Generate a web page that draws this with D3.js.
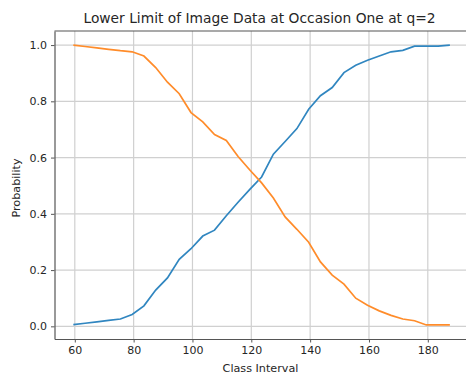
<!DOCTYPE html>
<html>
<head>
<meta charset="utf-8">
<script src="https://cdn.jsdelivr.net/npm/d3@7"></script>
<style>
  body { margin: 0; background: #fff; }
  text { font-family: "DejaVu Sans", sans-serif; fill: #262626; }
</style>
</head>
<body>
<div id="chart"></div>
<script>
// datos
var classInterval = [59.5, 63.5, 67.5, 71.5, 75.5, 79.5, 83.5, 87.5, 91.5, 95.5, 99.5,
  103.5, 107.5, 111.5, 115.5, 119.5, 123.5, 127.5, 131.5, 135.5, 139.5, 143.5,
  147.5, 151.5, 155.5, 159.5, 163.5, 167.5, 171.5, 175.5, 179.5, 183.5, 187.5];
var blueSeries = [0.006, 0.011, 0.016, 0.021, 0.026, 0.042, 0.073, 0.129, 0.172, 0.238, 0.276,
  0.321, 0.342, 0.393, 0.441, 0.487, 0.531, 0.612, 0.657, 0.703, 0.772, 0.82,
  0.849, 0.902, 0.928, 0.946, 0.961, 0.976, 0.981, 0.996, 0.996, 0.996, 1.0];
var orangeSeries = [1.0, 0.995, 0.99, 0.985, 0.98, 0.976, 0.961, 0.92, 0.868, 0.827, 0.76,
  0.727, 0.682, 0.661, 0.604, 0.556, 0.51, 0.456, 0.389, 0.345, 0.299, 0.229,
  0.182, 0.15, 0.1, 0.075, 0.055, 0.039, 0.026, 0.02, 0.005, 0.005, 0.005];
var xTicks = [60, 80, 100, 120, 140, 160, 180];
var yTicks = [0.0, 0.2, 0.4, 0.6, 0.8, 1.0];

var width = 466, height = 376;
var plotLeft = 54.5, plotTop = 31, plotBottom = 339, plotRight = 468.7;

var svg = d3.select("#chart").append("svg")
  .attr("width", width)
  .attr("height", height);

// límites como matplotlib (margen del 5%)
var x = d3.scaleLinear().domain([53.1, 193.9]).range([plotLeft, plotRight]);
var y = d3.scaleLinear().domain([-0.045, 1.05]).range([plotBottom, plotTop]);

// rejilla
svg.append("g").selectAll("line").data(xTicks).enter().append("line")
  .attr("x1", d => x(d)).attr("x2", d => x(d))
  .attr("y1", plotTop).attr("y2", plotBottom)
  .attr("stroke", "#d0d0d0").attr("stroke-width", 1.2);
svg.append("g").selectAll("line").data(yTicks).enter().append("line")
  .attr("x1", plotLeft).attr("x2", plotRight)
  .attr("y1", d => y(d)).attr("y2", d => y(d))
  .attr("stroke", "#d0d0d0").attr("stroke-width", 1.2);

// ejes
var xAxis = svg.append("g")
  .attr("transform", "translate(0," + plotBottom + ")")
  .call(d3.axisBottom(x).tickValues(xTicks).tickSize(3.5).tickSizeOuter(0).tickPadding(4).tickFormat(d3.format("d")));
var yAxis = svg.append("g")
  .attr("transform", "translate(" + plotLeft + ",0)")
  .call(d3.axisLeft(y).tickValues(yTicks).tickSize(3.5).tickSizeOuter(0).tickPadding(4).tickFormat(d3.format(".1f")));
[xAxis, yAxis].forEach(function (g) {
  g.select(".domain").attr("stroke", "#555").attr("stroke-width", 1.2);
  g.selectAll(".tick line").attr("stroke", "#555");
  g.selectAll(".tick text").style("font-size", "11px").style("font-family", "DejaVu Sans, sans-serif").attr("fill", "#333");
});
svg.append("line").attr("x1", plotLeft).attr("x2", plotRight).attr("y1", plotTop).attr("y2", plotTop)
  .attr("stroke", "#555").attr("stroke-width", 1.2);

// líneas
var line = function (vals) {
  return d3.line().x((d, i) => x(classInterval[i])).y(d => y(d))(vals);
};
svg.append("path").attr("d", line(blueSeries))
  .attr("fill", "none").attr("stroke", "#3086c0").attr("stroke-width", 1.7);
svg.append("path").attr("d", line(orangeSeries))
  .attr("fill", "none").attr("stroke", "#ff8c2a").attr("stroke-width", 1.7);

// textos
svg.append("text").attr("x", 259.5).attr("y", 23)
  .attr("text-anchor", "middle").style("font-size", "13.8px")
  .text("Lower Limit of Image Data at Occasion One at q=2");
svg.append("text").attr("x", 260.5).attr("y", 372)
  .attr("text-anchor", "middle").style("font-size", "11.2px")
  .text("Class Interval");
svg.append("text").attr("transform", "translate(19.5,188) rotate(-90)")
  .attr("text-anchor", "middle").style("font-size", "11.2px")
  .text("Probability");
</script>
</body>
</html>
